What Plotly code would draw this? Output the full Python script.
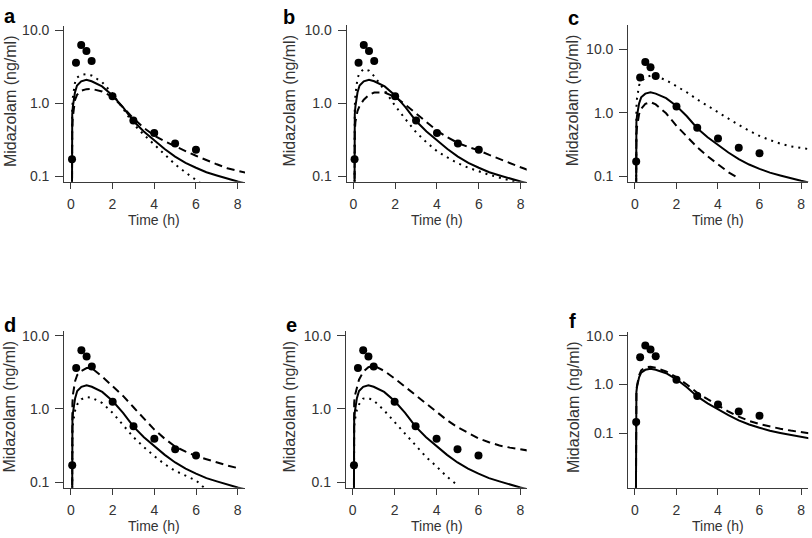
import plotly.graph_objects as go

# ---------------- data ----------------
# observed midazolam concentrations (same in every panel)
obs_time = [0.06, 0.25, 0.5, 0.75, 1, 2, 3, 4, 5, 6]
obs_conc = [0.17, 3.6, 6.3, 5.2, 3.8, 1.25, 0.58, 0.39, 0.28, 0.23]

# common time grid for simulated curves (h)
sim_time = [0.04, 0.05, 0.07, 0.1, 0.15, 0.2, 0.3, 0.5, 0.75, 1, 1.5, 2, 2.5,
            3, 3.5, 4, 4.5, 5, 5.5, 6, 6.5, 7, 7.5, 8, 8.4]

# solid curve (same in all panels)
solid_conc = [0.001, 0.45, 0.7, 0.9, 1.15, 1.4, 1.75, 2.0, 2.1, 2.0, 1.7, 1.28, 0.88,
              0.57, 0.41, 0.31, 0.235, 0.185, 0.152, 0.13, 0.113, 0.102, 0.092, 0.084, 0.079]

a_dotted = [0.001, 0.4, 0.8, 1.2, 1.6, 1.9, 2.25, 2.45, 2.5, 2.4, 1.95, 1.35, 0.85,
            0.52, 0.37, 0.27, 0.2, 0.145, 0.112, 0.088, 0.07]
a_dashed = [0.001, 0.2, 0.45, 0.65, 0.9, 1.1, 1.3, 1.48, 1.56, 1.57, 1.45, 1.22, 0.88,
            0.62, 0.46, 0.36, 0.3, 0.255, 0.22, 0.19, 0.165, 0.145, 0.128, 0.117, 0.111]

b_dotted = [0.001, 0.5, 0.9, 1.3, 1.8, 2.2, 2.6, 2.95, 2.8, 2.35, 1.5, 0.92, 0.6,
            0.4, 0.29, 0.22, 0.18, 0.15, 0.13, 0.115, 0.104, 0.095, 0.088, 0.08]
b_dashed = [0.001, 0.2, 0.4, 0.55, 0.68, 0.78, 0.92, 1.12, 1.3, 1.4, 1.4, 1.22, 0.95,
            0.72, 0.54, 0.42, 0.34, 0.285, 0.25, 0.225, 0.195, 0.17, 0.15, 0.132, 0.12]

c_dotted = [0.001, 0.6, 1.2, 1.7, 2.3, 2.7, 3.1, 3.6, 3.85, 3.8, 3.25, 2.65, 2.1,
            1.62, 1.28, 1.0, 0.8, 0.64, 0.52, 0.43, 0.37, 0.325, 0.295, 0.275, 0.265]
c_dashed = [0.001, 0.25, 0.45, 0.6, 0.78, 0.95, 1.15, 1.38, 1.47, 1.35, 0.98, 0.62, 0.42,
            0.285, 0.205, 0.152, 0.115, 0.092]

d_dotted = [0.001, 0.3, 0.5, 0.65, 0.82, 0.95, 1.15, 1.35, 1.45, 1.42, 1.2, 0.88, 0.6,
            0.41, 0.3, 0.225, 0.175, 0.142, 0.122, 0.105, 0.078]
d_dashed = [0.001, 0.6, 1.2, 1.6, 2.1, 2.4, 2.9, 3.3, 3.6, 3.6, 2.75, 2.05, 1.5,
            1.05, 0.73, 0.52, 0.39, 0.305, 0.26, 0.227, 0.205, 0.185, 0.168, 0.155]

e_dotted = [0.001, 0.35, 0.55, 0.7, 0.85, 0.97, 1.15, 1.38, 1.4, 1.3, 0.95, 0.66, 0.46,
            0.31, 0.22, 0.163, 0.118, 0.09]
e_dashed = [0.001, 0.6, 1.2, 1.5, 1.75, 2.0, 2.5, 3.2, 3.7, 3.9, 3.3, 2.6, 2.0,
            1.52, 1.15, 0.9, 0.7, 0.56, 0.47, 0.395, 0.35, 0.315, 0.295, 0.278, 0.268]

f_dashed = [0.001, 0.5, 0.75, 0.95, 1.25, 1.55, 1.95, 2.25, 2.3, 2.2, 1.85, 1.42, 1.0,
            0.68, 0.5, 0.37, 0.28, 0.22, 0.18, 0.155, 0.137, 0.124, 0.114, 0.106, 0.1]

panel_letters = ["a", "b", "c", "d", "e", "f"]
x_ticks = [0, 2, 4, 6, 8]
y_tickvals = [0.1, 1, 10]
y_ticktext = ["0.1", "1.0", "10.0"]

# ---------------- layout geometry (pixels) ----------------
W, H = 812, 538
panels = [
    # letter, dotted, dashed, x-domain px, x-range, y-domain px (top,bottom), log y-range
    ("a", a_dotted, a_dashed, (64.3, 245.0), (-0.31, 8.35), (21.7, 179.0), (-1.077, 1.054)),
    ("b", b_dotted, b_dashed, (346.7, 526.7), (-0.316, 8.29), (20.7, 179.0), (-1.077, 1.068)),
    ("c", c_dotted, c_dashed, (628.3, 808.3), (-0.32, 8.35), (20.0, 179.0), (-1.089, 1.389)),
    ("d", d_dotted, d_dashed, (64.3, 245.0), (-0.32, 8.35), (330.7, 489.0), (-1.077, 1.058)),
    ("e", e_dotted, e_dashed, (346.0, 526.7), (-0.32, 8.3), (330.7, 489.0), (-1.077, 1.058)),
    ("f", None, f_dashed, (628.3, 808.3), (-0.32, 8.35), (331.7, 489.0), (-2.111, 1.067)),
]
letter_pos = {"a": (2, 11), "b": (281, 12), "c": (566, 13),
              "d": (2, 324), "e": (284, 324), "f": (567, 320)}
ytitle_x = {"a": 10, "b": 290, "c": 572, "d": 10, "e": 290, "f": 573}

FONT = "Liberation Sans, Arial, Helvetica, sans-serif"
AX = "#3a3a3a"

fig = go.Figure()
layout = dict(width=W, height=H, autosize=False, margin=dict(l=0, r=0, t=0, b=0),
              paper_bgcolor="white", plot_bgcolor="white", showlegend=False,
              font=dict(family=FONT, color="#333"))
annotations = []

for i, (letter, dotted, dashed, xd, xr, yd, yr) in enumerate(panels):
    n = "" if i == 0 else str(i + 1)
    xa, ya = "x" + n, "y" + n
    layout["xaxis" + n] = dict(
        domain=[xd[0] / W, xd[1] / W], range=list(xr), anchor=ya,
        tickvals=x_ticks, ticks="outside", ticklen=6, tickwidth=1.3, tickcolor=AX,
        ticklabelstandoff=3,
        showline=True, linecolor=AX, linewidth=1.3, showgrid=False, zeroline=False,
        tickfont=dict(size=14, color="#333", family=FONT), fixedrange=True)
    layout["yaxis" + n] = dict(
        domain=[1 - yd[1] / H, 1 - yd[0] / H], type="log", range=list(yr), anchor=xa,
        tickvals=y_tickvals, ticktext=y_ticktext, ticks="outside", ticklen=8,
        ticklabelstandoff=3,
        tickwidth=1.3, tickcolor=AX, showline=True, linecolor=AX, linewidth=1.3,
        showgrid=False, zeroline=False,
        tickfont=dict(size=14, color="#333", family=FONT), fixedrange=True)

    if dotted is not None:
        fig.add_trace(go.Scatter(x=sim_time[:len(dotted)], y=dotted, mode="lines",
                                 line=dict(color="black", width=2, dash="2px,5px"),
                                 xaxis=xa, yaxis=ya))
    fig.add_trace(go.Scatter(x=sim_time[:len(dashed)], y=dashed, mode="lines",
                             line=dict(color="black", width=2, dash="8px,5px"),
                             xaxis=xa, yaxis=ya))
    fig.add_trace(go.Scatter(x=sim_time, y=solid_conc, mode="lines",
                             line=dict(color="black", width=2),
                             xaxis=xa, yaxis=ya))
    fig.add_trace(go.Scatter(x=obs_time, y=obs_conc, mode="markers",
                             marker=dict(color="black", size=8, line=dict(width=0)),
                             xaxis=xa, yaxis=ya))

    # panel letter
    lx, ly = letter_pos[letter]
    annotations.append(dict(text="<b>%s</b>" % letter, xref="paper", yref="paper",
                            x=lx / W, y=1 - ly / H, xanchor="left", yanchor="middle",
                            showarrow=False, font=dict(size=20, color="black", family=FONT)))
    # y title
    annotations.append(dict(text="Midazolam (ng/ml)", xref="paper", yref="paper",
                            x=ytitle_x[letter] / W, y=1 - ((yd[0] + yd[1]) / 2 - 3) / H,
                            xanchor="center", yanchor="middle", textangle=-90,
                            showarrow=False, font=dict(size=16, color="#333", family=FONT)))
    # x title
    x0px = xd[0] + (0 - xr[0]) / (xr[1] - xr[0]) * (xd[1] - xd[0])
    x8px = xd[0] + (8 - xr[0]) / (xr[1] - xr[0]) * (xd[1] - xd[0])
    annotations.append(dict(text="Time (h)", xref="paper", yref="paper",
                            x=(x0px + x8px) / 2 / W, y=1 - (yd[1] + 39) / H,
                            xanchor="center", yanchor="middle", showarrow=False,
                            font=dict(size=14, color="#333", family=FONT)))

layout["annotations"] = annotations
fig.update_layout(**layout)
fig.write_html("out.html", config={"displayModeBar": False},
               post_script="document.body.style.margin='0';document.body.style.overflow='hidden';")
